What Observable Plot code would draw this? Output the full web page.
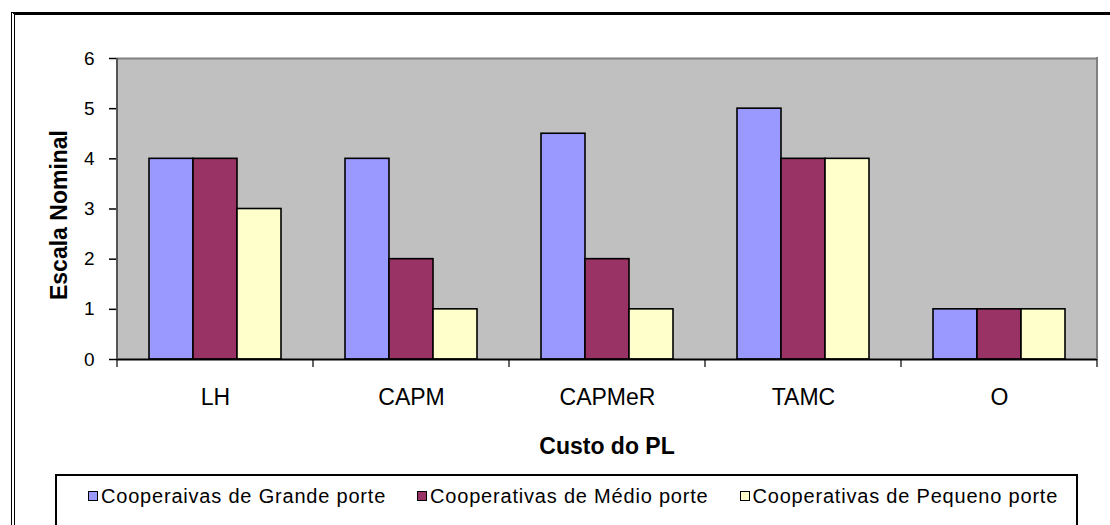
<!DOCTYPE html>
<html>
<head>
<meta charset="utf-8">
<script src="https://cdn.jsdelivr.net/npm/d3@7"></script>
<script src="https://cdn.jsdelivr.net/npm/@observablehq/plot@0.6"></script>
<style>
  html, body { margin: 0; padding: 0; background: #fff; }
  #wrap { position: relative; width: 1110px; height: 525px; overflow: hidden; font-family: "Liberation Sans", Arial, sans-serif; color: #000; }
  #chart { position: absolute; left: 0; top: 0; }
  #outer { position: absolute; left: 11px; top: 12px; width: 1200px; height: 600px; border-top: 3px solid #000; border-left: 4px double #000; box-sizing: border-box; pointer-events: none; z-index: 3; }
  .ytitle { position: absolute; left: 59px; top: 215px; transform: translate(-50%, -50%) rotate(-90deg); font-weight: bold; font-size: 23px; line-height: 1; white-space: nowrap; }
  .xtitle { position: absolute; left: 607px; top: 435px; transform: translateX(-50%); font-weight: bold; font-size: 23px; line-height: 1; white-space: nowrap; }
  #legend { position: absolute; left: 55px; top: 474px; width: 1023px; height: 80px; box-sizing: border-box; border: 2px solid #000; display: flex; align-items: flex-start; padding-left: 31px; padding-top: 10px; gap: 31px; font-size: 20px; letter-spacing: 0.8px; line-height: 1; }
  .item { display: flex; align-items: center; white-space: nowrap; }
  .sw { width: 8px; height: 8px; border: 1px solid #000; margin-right: 3px; flex: none; }
</style>
</head>
<body>
<div id="wrap">
  <div id="chart"></div>
  <div class="ytitle">Escala Nominal</div>
  <div class="xtitle">Custo do PL</div>
  <div id="legend"></div>
  <div id="outer"></div>
</div>
<script>
const categories = ["LH", "CAPM", "CAPMeR", "TAMC", "O"];
const series = ["Cooperaivas de Grande porte", "Cooperativas de Médio porte", "Cooperativas de Pequeno porte"];
const grande = [4, 4, 4.5, 5, 1];
const medio = [4, 2, 2, 4, 1];
const pequeno = [3, 1, 1, 4, 1];
const colors = ["#9999FF", "#993366", "#FFFFCC"];
const yTicks = [0, 1, 2, 3, 4, 5, 6];

const valuesBySeries = [grande, medio, pequeno];
const rows = [];
categories.forEach((c, i) => {
  series.forEach((s, j) => rows.push({cat: c, series: s, value: valuesBySeries[j][i]}));
});

const chart = Plot.plot({
  width: 1110,
  height: 420,
  marginLeft: 117,
  marginRight: 13,
  marginTop: 58,
  marginBottom: 61,
  style: {fontFamily: "'Liberation Sans', Arial, sans-serif", color: "#000", background: "transparent", overflow: "visible"},
  fx: {domain: categories, padding: 0, label: null},
  x: {domain: series, paddingInner: 0, paddingOuter: 0.727, axis: null},
  y: {domain: [0, 6], label: null},
  color: {domain: series, range: colors},
  marks: [
    Plot.frame({fill: "#C0C0C0", stroke: "none", shapeRendering: "crispEdges"}),
    Plot.ruleY([6], {stroke: "#808080", strokeWidth: 2}),
    Plot.barY(rows, {fx: "cat", x: "series", y: "value", fill: "series", stroke: "#000", strokeWidth: 1.6}),
    Plot.ruleY([0], {stroke: "#000", strokeWidth: 2}),
    Plot.axisY({ticks: yTicks, tickFormat: d3.format("d"), tickSize: 8, tickPadding: 15, fontSize: 19, strokeWidth: 1.5, label: null, anchor: "left"}),
    Plot.axisFx({anchor: "bottom", tickSize: 0, tickPadding: 29, fontSize: 23, label: null})
  ]
});
document.getElementById("chart").appendChild(chart);

// frame edges and category boundary ticks, placed through the plot's own scales
const fx = chart.scale("fx");
const ys = chart.scale("y");
const y0 = ys.apply(0), y6 = ys.apply(6);
const bounds = categories.map(c => fx.apply(c));
bounds.push(fx.apply(categories[categories.length - 1]) + fx.bandwidth);
const g = d3.select(chart).append("g");
g.append("line").attr("x1", bounds[0]).attr("x2", bounds[0]).attr("y1", y6).attr("y2", y0)
  .attr("stroke", "#555").attr("stroke-width", 2);
g.append("line").attr("x1", bounds[bounds.length - 1]).attr("x2", bounds[bounds.length - 1]).attr("y1", y6 - 1).attr("y2", y0)
  .attr("stroke", "#808080").attr("stroke-width", 2);
g.selectAll("line.bt").data(bounds).join("line").attr("class", "bt")
  .attr("x1", d => d).attr("x2", d => d).attr("y1", y0).attr("y2", y0 + 8)
  .attr("stroke", "#000").attr("stroke-width", 1.2);

// legend
const legend = d3.select("#legend");
series.forEach((s, i) => {
  const it = legend.append("div").attr("class", "item");
  it.append("div").attr("class", "sw").style("background", colors[i]);
  it.append("span").text(s);
});
</script>
</body>
</html>
